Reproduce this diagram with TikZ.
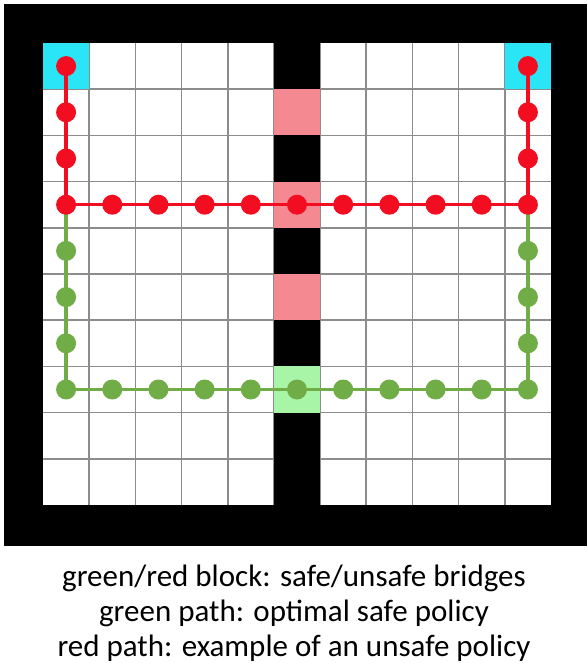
\documentclass[tikz,border=0pt]{standalone}
\usepackage{fontspec}
\setmainfont{Carlito}
\pgfdeclarelayer{back}
\pgfdeclarelayer{lines}
\pgfsetlayers{back,lines,main}
\definecolor{gridc}{RGB}{140,140,140}
\definecolor{startc}{RGB}{41,229,245}
\definecolor{unsafec}{RGB}{244,137,146}
\definecolor{safec}{RGB}{168,245,168}
\definecolor{redpath}{RGB}{242,14,32}
\definecolor{greenpath}{RGB}{112,173,71}
\begin{document}
\begin{tikzpicture}[x=1pt,y=-1pt,
  rdot/.style={circle,fill=redpath,inner sep=0pt,minimum size=20pt},
  gdot/.style={circle,fill=greenpath,inner sep=0pt,minimum size=20pt},
  rline/.style={draw=redpath,line width=3.5pt},
  gline/.style={draw=greenpath,line width=3.5pt},
  caption/.style={anchor=base,font=\fontsize{31}{35}\selectfont,inner sep=0pt}]
\def\cw{46.1818}
\def\ch{46.2}
\useasboundingbox (0,0) rectangle (587,663);
\begin{pgfonlayer}{back}
\fill[white] (0,0) rectangle (587,663);
\fill[black] (4,4) rectangle (587,546);
\fill[white] (43,43) rectangle (551,505);
% grid lines
\foreach \i in {1,...,10} \draw[gridc,line width=1.6pt] ({43+\i*\cw},43) -- ({43+\i*\cw},505);
\foreach \j in {1,...,9} \draw[gridc,line width=1.6pt] (43,{43+\j*\ch}) -- (551,{43+\j*\ch});
% start/goal cells
\fill[startc] (43,43) rectangle ++(\cw,\ch);
\fill[startc] ({43+10*\cw},43) rectangle ++(\cw,\ch);
% wall column
\foreach \j in {0,2,4,6,8,9} \fill[black] ({43+5*\cw},{43+\j*\ch}) rectangle ++(\cw,\ch);
\foreach \j in {1,3,5} \fill[unsafec] ({43+5*\cw},{43+\j*\ch}) rectangle ++(\cw,\ch);
\fill[safec] ({43+5*\cw},{43+7*\ch}) rectangle ++(\cw,\ch);
\end{pgfonlayer}
% green path dots
\foreach \j in {4,5,6,7} \node[gdot] (gL\j) at ({43+0.5*\cw},{43+(\j+0.5)*\ch}) {};
\foreach \i in {1,...,10} \node[gdot] (gB\i) at ({43+(\i+0.5)*\cw},{43+7.5*\ch}) {};
\foreach \j in {4,5,6} \node[gdot] (gR\j) at ({43+10.5*\cw},{43+(\j+0.5)*\ch}) {};
% red path dots
\foreach \j in {0,1,2} \node[rdot] (rL\j) at ({43+0.5*\cw},{43+(\j+0.5)*\ch}) {};
\foreach \i in {0,...,10} \node[rdot] (rM\i) at ({43+(\i+0.5)*\cw},{43+3.5*\ch}) {};
\foreach \j in {0,1,2} \node[rdot] (rR\j) at ({43+10.5*\cw},{43+(\j+0.5)*\ch}) {};
% connectors
\begin{pgfonlayer}{lines}
\draw[gline] (rM0.center) -- (gL7.center) -- (gB10.center) -- (rM10.center);
\draw[rline] (rL0.center) -- (rM0.center) -- (rM10.center) -- (rR0.center);
\end{pgfonlayer}
% caption
\node[caption] (c1) at (294,586) {green/red block: safe/unsafe bridges};
\node[caption] (c2) at (294,621) {green path: optimal safe policy};
\node[caption] (c3) at (294,656) {red path: example of an unsafe policy};
\end{tikzpicture}
\end{document}
